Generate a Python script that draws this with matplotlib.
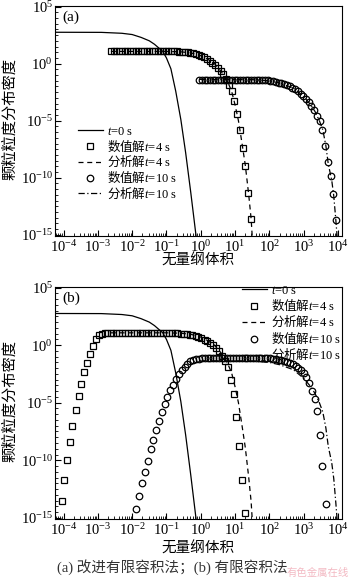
import numpy as np
import matplotlib
matplotlib.use('Agg')
import matplotlib.pyplot as plt
from matplotlib.ticker import FixedLocator, LogLocator, NullFormatter

plt.rcParams['font.family'] = ['Liberation Serif', 'Noto Sans CJK SC']
plt.rcParams['mathtext.fontset'] = 'custom'
plt.rcParams['mathtext.rm'] = 'Noto Sans CJK SC'
plt.rcParams['mathtext.it'] = 'Liberation Serif:italic'

# all values are log10 of (volume, density)

# t=0 s initial distribution (same in both panels)
t0_lx = [-4.3, -2.9, -2.3, -2.0, -1.74, -1.5, -1.35, -1.11, -1.0, -0.87, -0.73, -0.58, -0.44, -0.29, -0.14, -0.1]
t0_ly = [2.75, 2.74, 2.66, 2.55, 2.3, 2.0, 1.7, 1.08, 0.5, -0.45, -2.4, -4.9, -7.8, -11.3, -15.0, -16.0]

# analytical solution t=4 s (dashed)
an4_lx = [-2.62, -1.0, -0.6, -0.3, 0.0, 0.2, 0.4, 0.6, 0.8, 0.9, 1.0, 1.1, 1.2, 1.3, 1.4, 1.47, 1.52]
an4_ly = [1.07, 1.07, 1.04, 0.95, 0.7, 0.4, 0.0, -0.7, -1.7, -2.4, -3.6, -5.0, -6.9, -8.9, -11.5, -13.6, -16.0]

# analytical solution t=10 s (dash-dot)
an10_lx = [-0.05, 1.5, 2.0, 2.3, 2.7, 3.0, 3.19, 3.33, 3.46, 3.56, 3.65, 3.72, 3.82, 3.88, 3.94, 4.0]
an10_ly = [-1.38, -1.4, -1.5, -1.7, -2.13, -2.87, -3.54, -4.18, -5.0, -5.8, -7.2, -8.8, -10.2, -11.6, -13.7, -16.0]

# panel (a): improved finite volume, t=4 s
a4_lx = [-2.62, -2.54, -2.46, -2.38, -2.30, -2.22, -2.14, -2.06, -1.98, -1.90,
         -1.82, -1.74, -1.66, -1.58, -1.50, -1.42, -1.34, -1.26, -1.18, -1.10,
         -1.02, -0.94, -0.86, -0.78, -0.70, -0.62, -0.54, -0.46, -0.38, -0.30,
         -0.22, -0.14, -0.06, 0.02, 0.10, 0.18, 0.26, 0.34, 0.42, 0.50,
         0.58, 0.66, 0.74, 0.82, 0.90, 0.98, 1.06, 1.14, 1.22, 1.30, 1.38, 1.46]
a4_ly = [1.07, 1.07, 1.07, 1.07, 1.07, 1.07, 1.07, 1.07, 1.07, 1.07,
         1.07, 1.07, 1.07, 1.07, 1.07, 1.07, 1.07, 1.07, 1.07, 1.07,
         1.07, 1.07, 1.07, 1.07, 1.07, 1.06, 1.04, 1.01, 0.98, 0.95,
         0.90, 0.84, 0.76, 0.67, 0.55, 0.40, 0.25, 0.10, -0.10, -0.35,
         -0.62, -0.95, -1.35, -1.85, -2.4, -3.3, -4.4, -5.8, -7.4, -9.0, -11.3, -13.6]

# panel (a): improved finite volume, t=10 s
a10_lx = [-0.05, 0.03, 0.11, 0.19, 0.27, 0.35, 0.43, 0.51, 0.59, 0.67,
          0.75, 0.83, 0.91, 0.99, 1.07, 1.15, 1.23, 1.31, 1.39, 1.47,
          1.55, 1.63, 1.71, 1.79, 1.87, 1.95, 2.03, 2.11, 2.19, 2.27,
          2.35, 2.43, 2.51, 2.59, 2.67, 2.75, 2.83, 2.91, 2.99, 3.07,
          3.15, 3.23, 3.31, 3.39, 3.47, 3.55, 3.63, 3.71, 3.79, 3.87, 3.95]
a10_ly = [-1.4, -1.4, -1.4, -1.4, -1.4, -1.4, -1.4, -1.4, -1.4, -1.4,
          -1.4, -1.4, -1.4, -1.4, -1.4, -1.4, -1.4, -1.4, -1.4, -1.4,
          -1.4, -1.4, -1.4, -1.42, -1.44, -1.47, -1.51, -1.55, -1.6, -1.66,
          -1.73, -1.81, -1.9, -2.0, -2.1, -2.25, -2.42, -2.62, -2.85, -3.1,
          -3.38, -3.7, -4.1, -4.55, -5.05, -5.8, -7.2, -8.6, -9.8, -11.4, -13.7]

# panel (b): finite volume, t=4 s
b4_lx = [-4.06, -3.98, -3.89, -3.82, -3.74, -3.65, -3.56, -3.48, -3.40, -3.31,
         -3.23, -3.15, -3.06, -2.97, -2.89, -2.80, -2.72, -2.63, -2.55, -2.46,
         -2.38, -2.29, -2.21, -2.12, -2.04, -1.95, -1.87, -1.78, -1.70, -1.61,
         -1.53, -1.44, -1.36, -1.27, -1.19, -1.10, -1.02, -0.93, -0.85, -0.76,
         -0.68, -0.58, -0.49, -0.41, -0.32, -0.24, -0.15, -0.07, 0.02, 0.11,
         0.19, 0.28, 0.36, 0.45, 0.53, 0.62, 0.70, 0.79, 0.87, 0.96,
         1.04, 1.12, 1.21, 1.30]
b4_ly = [-13.5, -11.7, -10.0, -8.42, -7.02, -5.67, -4.45, -3.36, -2.34, -1.52,
         -0.73, -0.06, 0.53, 0.90, 1.0, 1.03, 1.03, 1.03, 1.03, 1.03,
         1.03, 1.03, 1.03, 1.03, 1.03, 1.03, 1.03, 1.03, 1.03, 1.03,
         1.03, 1.03, 1.03, 1.03, 1.03, 1.03, 1.03, 1.03, 1.03, 1.03,
         1.02, 1.0, 0.98, 0.95, 0.9, 0.85, 0.78, 0.7, 0.6, 0.48,
         0.35, 0.2, 0.02, -0.22, -0.55, -0.95, -1.35, -1.9, -3.0, -4.2,
         -6.2, -8.8, -11.7, -14.6]

# panel (b): finite volume, t=10 s
b10_lx = [-1.88, -1.80, -1.71, -1.63, -1.55, -1.46, -1.38, -1.30, -1.22, -1.14,
          -1.05, -0.97, -0.89, -0.80, -0.72, -0.63, -0.55, -0.47, -0.39, -0.30,
          -0.22, -0.14, -0.05, 0.03, 0.11, 0.20, 0.28, 0.36, 0.45, 0.53,
          0.61, 0.69, 0.78, 0.86, 0.94, 1.03, 1.11, 1.19, 1.28, 1.36,
          1.44, 1.52, 1.61, 1.69, 1.77, 1.86, 1.94, 2.02, 2.10, 2.19,
          2.27, 2.35, 2.44, 2.52, 2.60, 2.68, 2.77, 2.85, 2.93, 3.00,
          3.08, 3.16, 3.24, 3.32, 3.40, 3.49, 3.55, 3.65]
b10_ly = [-14.2, -13.1, -12.0, -11.0, -10.1, -9.06, -8.25, -7.37, -6.58, -5.85,
          -5.09, -4.50, -3.92, -3.42, -2.98, -2.54, -2.17, -1.87, -1.61, -1.42,
          -1.3, -1.22, -1.17, -1.14, -1.12, -1.12, -1.12, -1.12, -1.12, -1.12,
          -1.12, -1.12, -1.12, -1.12, -1.12, -1.12, -1.12, -1.12, -1.12, -1.12,
          -1.12, -1.12, -1.12, -1.12, -1.12, -1.12, -1.12, -1.15, -1.18, -1.22,
          -1.27, -1.33, -1.40, -1.48, -1.57, -1.68, -1.82, -2.0, -2.2, -2.45,
          -2.8, -3.3, -3.95, -4.7, -5.7, -7.8, -10.5, -13.8]

labels = [r'$\mathit{t}$=0 s',
          r'$\mathrm{数值解}\mathit{t}$=4 s',
          r'$\mathrm{分析解}\mathit{t}$=4 s',
          r'$\mathrm{数值解}\mathit{t}$=10 s',
          r'$\mathrm{分析解}\mathit{t}$=10 s']


def p(a):
    return 10.0 ** np.array(a)


W, H = 350, 578
fig = plt.figure(figsize=(W / 100, H / 100), dpi=100)


def make_axes(top, bottom):
    left, right = 55, 342
    return fig.add_axes([left / W, 1 - bottom / H, (right - left) / W, (bottom - top) / H])


def draw(ax, sq_lx, sq_ly, ci_lx, ci_ly, letter):
    ax.plot(p(t0_lx), p(t0_ly), 'k-', lw=0.9, label=labels[0])
    ax.plot(p(sq_lx), p(sq_ly), 's', ms=4.4, mfc='none', mec='k', mew=0.9, label=labels[1])
    ax.plot(p(an4_lx), p(an4_ly), 'k--', lw=0.9, dashes=(4, 3), label=labels[2])
    ax.plot(p(ci_lx), p(ci_ly), 'o', ms=4.7, mfc='none', mec='k', mew=0.9, label=labels[3])
    ax.plot(p(an10_lx), p(an10_ly), 'k-.', lw=0.9, dashes=(5, 2, 1, 2), label=labels[4])

    ax.set_xscale('log')
    ax.set_yscale('log')
    ax.set_xlim(10 ** -4.25, 10 ** 4.12)
    ax.set_ylim(10 ** -15.1, 10 ** 5.05)
    ax.set_xticks(10.0 ** np.arange(-4, 5))
    ax.set_yticks([1e5, 1e0, 1e-5, 1e-10, 1e-15])
    ax.xaxis.set_minor_locator(LogLocator(base=10, subs=np.arange(2, 10), numticks=30))
    ax.xaxis.set_minor_formatter(NullFormatter())
    ax.yaxis.set_minor_locator(FixedLocator(10.0 ** np.arange(-15, 5.01, 0.5)))
    ax.yaxis.set_minor_formatter(NullFormatter())
    ax.tick_params(which='both', direction='in', top=False, right=False, labelsize=10.5)
    ax.tick_params(which='major', length=4, width=0.8)
    ax.tick_params(which='minor', length=2, width=0.6)
    ax.tick_params(axis='y', pad=1.5)
    ax.tick_params(axis='x', pad=2.5)
    for s in ax.spines.values():
        s.set_linewidth(0.8)
    ax.text(0.056, 0.952, letter, transform=ax.transAxes, ha='center', va='center', fontsize=11)


ax1 = make_axes(6, 236)
draw(ax1, a4_lx, a4_ly, a10_lx, a10_ly, '(a)')
ax1.legend(loc='upper left', bbox_to_anchor=(0.08, 0.48), frameon=False, fontsize=9,
           handlelength=2.0, handletextpad=0.3, labelspacing=0.0, borderpad=0,
           borderaxespad=0, numpoints=1)

ax2 = make_axes(287, 519)
draw(ax2, b4_lx, b4_ly, b10_lx, b10_ly, '(b)')
ax2.legend(loc='upper right', bbox_to_anchor=(0.995, 1.01), frameon=False, fontsize=9,
           handlelength=2.0, handletextpad=0.3, labelspacing=0.05, borderpad=0,
           borderaxespad=0, numpoints=1)

# axis labels
fig.text(10 / W, 1 - 119 / H, '颗粒粒度分布密度', rotation=90, ha='center', va='center', fontsize=11)
fig.text(10 / W, 1 - 401 / H, '颗粒粒度分布密度', rotation=90, ha='center', va='center', fontsize=11)
fig.text(198 / W, 1 - 261 / H, '无量纲体积', ha='center', va='center', fontsize=10.5)
fig.text(198 / W, 1 - 549 / H, '无量纲体积', ha='center', va='center', fontsize=10.5)

fig.text(172 / W, 1 - 567 / H, '(a) 改进有限容积法；(b) 有限容积法', ha='center', va='center',
         fontsize=10.5, color='#333333')
fig.text(318 / W, 1 - 573 / H, '有色金属在线', ha='center', va='center', fontsize=7.5,
         color='#f0a8b4', alpha=0.8)

fig.savefig('out.png', dpi=100)
